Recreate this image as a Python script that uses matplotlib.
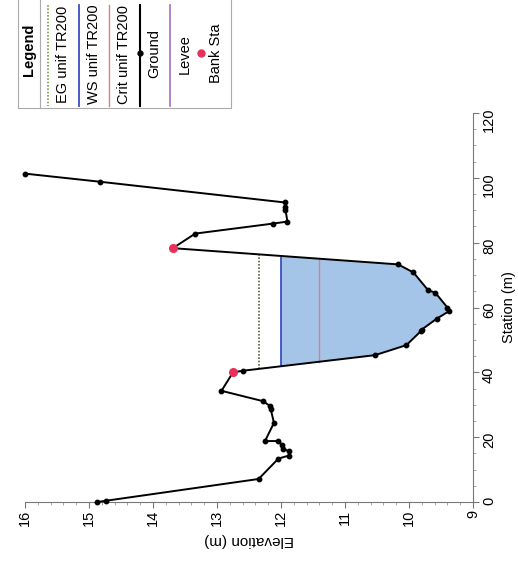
import numpy as np
import matplotlib
matplotlib.use("Agg")
import matplotlib.pyplot as plt
from matplotlib.lines import Line2D
from matplotlib.patches import Rectangle

plt.rcParams['font.family'] = ['Liberation Sans', 'DejaVu Sans']

# ground profile of the cross section (station m, elevation m)
station = [0.0, 0.4, 7.1, 13.4, 14.3, 15.6, 16.4, 17.7, 18.8, 18.8, 24.4, 28.6,
           29.6, 31.1, 34.3, 40.0, 40.5, 45.3, 48.4, 52.6, 53.2, 56.5, 58.8, 60.0,
           64.6, 65.3, 70.8, 73.3, 78.3, 82.8, 85.9, 86.5, 90.2, 91.0, 92.4, 98.8,
           101.3]
ground = [14.87, 14.73, 12.35, 12.04, 11.88, 11.87, 11.97, 11.99, 12.04, 12.25,
          12.11, 12.16, 12.17, 12.28, 12.93, 12.75, 12.59, 10.53, 10.04, 9.82,
          9.80, 9.57, 9.38, 9.40, 9.59, 9.70, 9.93, 10.17, 13.69, 13.34, 12.12,
          11.90, 11.93, 11.93, 11.94, 14.83, 16.0]

# bank stations
bank_sta = [40.0, 78.3]
bank_elev = [12.75, 13.69]

# water levels, profile TR200
eg_level = 12.35
ws_level = 12.00
crit_level = 11.40

st = np.array(station)
gr = np.array(ground)
ib_left = station.index(bank_sta[0])
ib_right = station.index(bank_sta[1])


def crossing(i, j, level):
    s0, s1, g0, g1 = st[i], st[j], gr[i], gr[j]
    return s0 + (level - g0) / (g1 - g0) * (s1 - s0)


def channel_edges(level):
    i = ib_left
    while gr[i + 1] > level:
        i += 1
    left = crossing(i, i + 1, level)
    k = ib_right
    while gr[k - 1] > level:
        k -= 1
    right = crossing(k - 1, k, level)
    return left, right, i + 1, k


W, H = 518, 584
fig = plt.figure(figsize=(W / 100, H / 100), dpi=100)
ax = fig.add_axes([25 / W, 1 - 502 / H, 448 / W, 389 / H])

# water fill
sl, sr, i0, i1 = channel_edges(ws_level)
poly_s = [sl] + list(st[i0:i1]) + [sr]
poly_e = [ws_level] + list(gr[i0:i1]) + [ws_level]
ax.fill(poly_e, poly_s, color='#a5c5e8', zorder=1, lw=0)

l, r, _, _ = channel_edges(eg_level)
ax.plot([eg_level, eg_level], [l, r], color='#55663f', ls=(0, (1, 1)), lw=1.2, zorder=2)
ax.plot([ws_level, ws_level], [sl, sr], color='#3c4fc0', lw=1.3, zorder=3)
l, r, _, _ = channel_edges(crit_level)
ax.plot([crit_level, crit_level], [l, r], color='#d88080', lw=1.0, zorder=3)

ax.plot(ground, station, color='black', lw=1.4, marker='o', ms=3.2, zorder=4,
        clip_on=False)
ax.plot(bank_elev, bank_sta, ls='none', marker='o', ms=5.5, color='#e8305a', zorder=5)

ax.set_xlim(16, 9)
ax.set_ylim(0, 120)
ax.set_xticks(range(9, 17))
ax.set_xticks(np.arange(9, 16.01, 0.2), minor=True)
ax.set_yticks(range(0, 121, 20))
ax.set_yticks(range(0, 121, 5), minor=True)
ax.yaxis.tick_right()
for s in ['top', 'left']:
    ax.spines[s].set_visible(False)
for s in ['bottom', 'right']:
    ax.spines[s].set_color('#777777')
ax.tick_params(axis='both', which='major', length=4, color='#777777', labelsize=10.5)
ax.tick_params(axis='both', which='minor', length=2, color='#999999')
ax.tick_params(axis='x', labelrotation=90, pad=1.5)
ax.tick_params(axis='y', labelrotation=90, pad=2.5)

ax.set_xlabel('Elevation (m)', fontsize=11, rotation=180)
ax.xaxis.set_label_coords(0.5, (502 - 540) / 389)
ax.xaxis.label.set_va('center')
ax.set_ylabel('Station (m)', fontsize=10.5, rotation=90)
ax.yaxis.set_label_position('right')
ax.yaxis.set_label_coords((509 - 25) / 448, 0.5)
ax.yaxis.label.set_va('center')
ax.yaxis.label.set_ha('center')


# legend, drawn rotated like the rest of the page
def fx(x):
    return x / W


def fy(y):
    return 1 - y / H


fig.add_artist(Rectangle((fx(18), fy(108)), fx(231) - fx(18), fy(-2) - fy(108),
                         transform=fig.transFigure, fill=False, ec='#aaaaaa', lw=0.8))
fig.add_artist(Line2D([fx(40), fx(40)], [fy(0), fy(108)], color='#aaaaaa', lw=0.8))
fig.text(fx(29), fy(50), 'Legend', rotation=90, fontsize=10.5, fontweight='bold',
         ha='center', va='center')

entries = [
    ('EG unif TR200', dict(color='#7aa040', ls=(0, (1, 1)), lw=1.2), None),
    ('WS unif TR200', dict(color='#3c4fc0', lw=1.3), None),
    ('Crit unif TR200', dict(color='#d88080', lw=1.0), None),
    ('Ground', dict(color='black', lw=1.5), dict(color='black', ms=3.5)),
    ('Levee', dict(color='#a070c0', lw=1.2), None),
]
x0 = 48
for name, line_kw, mk in entries:
    fig.add_artist(Line2D([fx(x0), fx(x0)], [fy(5), fy(106)], **line_kw))
    if mk:
        fig.add_artist(Line2D([fx(x0)], [fy(53)], marker='o', ls='none', **mk))
    fig.text(fx(x0 + 15), fy(54), name, rotation=90, fontsize=10.5,
             ha='center', va='center')
    x0 += 30.5
fig.add_artist(Line2D([fx(x0)], [fy(53)], marker='o', ls='none', color='#e8305a', ms=5))
fig.text(fx(x0 + 15), fy(53), 'Bank Sta', rotation=90, fontsize=10.5,
         ha='center', va='center')

fig.savefig('out.png', dpi=100, facecolor='white')
